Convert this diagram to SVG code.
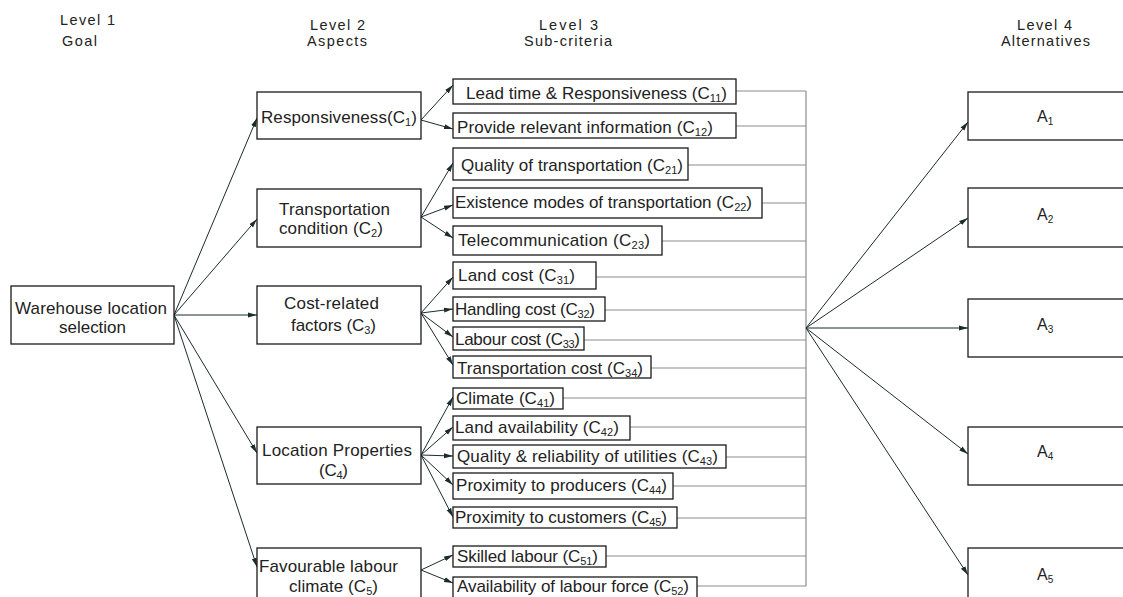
<svg xmlns="http://www.w3.org/2000/svg" width="1123" height="597" viewBox="0 0 1123 597">
<style>
text{font-family:"Liberation Sans",Arial,sans-serif;font-size:17px;fill:#222}
.hd{font-size:14.5px}
.sub{font-size:11px}
.box{fill:#fff;stroke:#1a1a1a;stroke-width:1.3}
.arr{stroke:#1c2b2b;stroke-width:1;fill:none;marker-end:url(#ah)}
.grey{stroke:#8c8c8c;stroke-width:1.2;fill:none}
.alt{font-size:16px}
.asub{font-size:10px}
</style>
<defs>
<marker id="ah" markerUnits="userSpaceOnUse" markerWidth="9" markerHeight="6" refX="9" refY="3" orient="auto">
<path d="M0,0.5 L9,3 L0,5.5 z" fill="#1c2b2b"/>
</marker>
</defs>
<rect width="1123" height="597" fill="#fff"/>

<g id="headers">
<text class="hd" x="60" y="25" textLength="55">Level 1</text>
<text class="hd" x="62" y="46" textLength="35">Goal</text>
<text class="hd" x="310" y="30" textLength="55">Level 2</text>
<text class="hd" x="307" y="46" textLength="60">Aspects</text>
<text class="hd" x="539" y="30" textLength="59">Level 3</text>
<text class="hd" x="524" y="46" textLength="88">Sub-criteria</text>
<text class="hd" x="1017" y="30" textLength="55">Level 4</text>
<text class="hd" x="1001" y="46" textLength="89">Alternatives</text>
</g>

<g id="connectors">
<!-- Level 1 to Level 2 -->
<line class="arr" x1="174" y1="315" x2="257" y2="118"/>
<line class="arr" x1="174" y1="315" x2="257" y2="219"/>
<line class="arr" x1="174" y1="315" x2="257" y2="315"/>
<line class="arr" x1="174" y1="315" x2="257" y2="453"/>
<line class="arr" x1="174" y1="315" x2="257" y2="567"/>
<!-- Level 2 to Level 3 -->
<line class="arr" x1="421" y1="120" x2="453" y2="85"/>
<line class="arr" x1="421" y1="120" x2="453" y2="129"/>
<line class="arr" x1="421" y1="217" x2="453" y2="163"/>
<line class="arr" x1="421" y1="217" x2="453" y2="205"/>
<line class="arr" x1="421" y1="217" x2="453" y2="238"/>
<line class="arr" x1="421" y1="313" x2="453" y2="277"/>
<line class="arr" x1="421" y1="313" x2="453" y2="309"/>
<line class="arr" x1="421" y1="313" x2="453" y2="337"/>
<line class="arr" x1="421" y1="313" x2="453" y2="365"/>
<line class="arr" x1="421" y1="455" x2="453" y2="397"/>
<line class="arr" x1="421" y1="455" x2="453" y2="427"/>
<line class="arr" x1="421" y1="455" x2="453" y2="456"/>
<line class="arr" x1="421" y1="455" x2="453" y2="485"/>
<line class="arr" x1="421" y1="455" x2="453" y2="517"/>
<line class="arr" x1="421" y1="570" x2="453" y2="555"/>
<line class="arr" x1="421" y1="570" x2="453" y2="583"/>
<!-- Level 3 to collector -->
<path class="grey" d="M806,91 V586 M736,91 H806 M736,126 H806 M688,165 H806 M762,203 H806 M662,241 H806 M596,277 H806 M605,310 H806 M584,340 H806 M651,368 H806 M563,398 H806 M630,427 H806 M726,457 H806 M673,486 H806 M677,518 H806 M606,556 H806 M697,586 H806"/>
<!-- collector to Level 4 -->
<line class="arr" x1="806" y1="328" x2="968" y2="122"/>
<line class="arr" x1="806" y1="328" x2="968" y2="218"/>
<line class="arr" x1="806" y1="328" x2="968" y2="328"/>
<line class="arr" x1="806" y1="328" x2="968" y2="454"/>
<line class="arr" x1="806" y1="328" x2="968" y2="575"/>
</g>

<g id="goal">
<rect class="box" x="11" y="286" width="163" height="58"/>
<text x="15" y="314" textLength="152">Warehouse location</text>
<text x="59" y="333" textLength="67">selection</text>
</g>

<g id="C1">
<rect class="box" x="257" y="92" width="164" height="47"/>
<text x="261" y="123" textLength="156">Responsiveness(C<tspan class="sub" dy="3">1</tspan><tspan dy="-3">)</tspan></text>
</g>
<g id="C2">
<rect class="box" x="257" y="189" width="164" height="58"/>
<text x="279" y="215" textLength="111">Transportation</text>
<text x="279" y="234" textLength="104">condition (C<tspan class="sub" dy="3">2</tspan><tspan dy="-3">)</tspan></text>
</g>
<g id="C3">
<rect class="box" x="257" y="286" width="164" height="58"/>
<text x="284" y="309" textLength="95">Cost-related</text>
<text x="291" y="331" textLength="85">factors (C<tspan class="sub" dy="3">3</tspan><tspan dy="-3">)</tspan></text>
</g>
<g id="C4">
<rect class="box" x="257" y="427" width="164" height="57"/>
<text x="262" y="456" textLength="150">Location Properties</text>
<text x="319" y="476" textLength="29">(C<tspan class="sub" dy="3">4</tspan><tspan dy="-3">)</tspan></text>
</g>
<g id="C5">
<rect class="box" x="257" y="548" width="164" height="60"/>
<text x="259" y="572" textLength="139">Favourable labour</text>
<text x="289" y="592" textLength="89">climate (C<tspan class="sub" dy="3">5</tspan><tspan dy="-3">)</tspan></text>
</g>

<g id="C11"><rect class="box" x="453" y="79" width="283" height="25"/>
<text x="466" y="99" textLength="261">Lead time &amp; Responsiveness (C<tspan class="sub" dy="3">11</tspan><tspan dy="-3">)</tspan></text></g>
<g id="C12"><rect class="box" x="453" y="113" width="283" height="25"/>
<text x="457" y="133" textLength="256">Provide relevant information (C<tspan class="sub" dy="3">12</tspan><tspan dy="-3">)</tspan></text></g>
<g id="C21"><rect class="box" x="453" y="148" width="235" height="32"/>
<text x="461" y="171" textLength="222">Quality of transportation (C<tspan class="sub" dy="3">21</tspan><tspan dy="-3">)</tspan></text></g>
<g id="C22"><rect class="box" x="453" y="188" width="309" height="30"/>
<text x="455" y="208" textLength="297">Existence modes of transportation (C<tspan class="sub" dy="3">22</tspan><tspan dy="-3">)</tspan></text></g>
<g id="C23"><rect class="box" x="453" y="226" width="209" height="29"/>
<text x="458" y="246" textLength="192">Telecommunication (C<tspan class="sub" dy="3">23</tspan><tspan dy="-3">)</tspan></text></g>
<g id="C31"><rect class="box" x="453" y="262" width="143" height="27"/>
<text x="458" y="281" textLength="117">Land cost (C<tspan class="sub" dy="3">31</tspan><tspan dy="-3">)</tspan></text></g>
<g id="C32"><rect class="box" x="453" y="297" width="152" height="24"/>
<text x="455" y="315" textLength="140">Handling cost (C<tspan class="sub" dy="3">32</tspan><tspan dy="-3">)</tspan></text></g>
<g id="C33"><rect class="box" x="453" y="327" width="131" height="23"/>
<text x="455" y="345" textLength="125">Labour cost (C<tspan class="sub" dy="3">33</tspan><tspan dy="-3">)</tspan></text></g>
<g id="C34"><rect class="box" x="453" y="356" width="198" height="22"/>
<text x="457" y="374" textLength="186">Transportation cost (C<tspan class="sub" dy="3">34</tspan><tspan dy="-3">)</tspan></text></g>
<g id="C41"><rect class="box" x="453" y="388" width="110" height="21"/>
<text x="456" y="404" textLength="99">Climate (C<tspan class="sub" dy="3">41</tspan><tspan dy="-3">)</tspan></text></g>
<g id="C42"><rect class="box" x="453" y="416" width="177" height="24"/>
<text x="455" y="433" textLength="164">Land availability (C<tspan class="sub" dy="3">42</tspan><tspan dy="-3">)</tspan></text></g>
<g id="C43"><rect class="box" x="453" y="445" width="273" height="23"/>
<text x="457" y="462" textLength="261">Quality &amp; reliability of utilities (C<tspan class="sub" dy="3">43</tspan><tspan dy="-3">)</tspan></text></g>
<g id="C44"><rect class="box" x="453" y="473" width="220" height="26"/>
<text x="456" y="491" textLength="211">Proximity to producers (C<tspan class="sub" dy="3">44</tspan><tspan dy="-3">)</tspan></text></g>
<g id="C45"><rect class="box" x="453" y="507" width="224" height="21"/>
<text x="455" y="523" textLength="212">Proximity to customers (C<tspan class="sub" dy="3">45</tspan><tspan dy="-3">)</tspan></text></g>
<g id="C51"><rect class="box" x="453" y="546" width="153" height="21"/>
<text x="457" y="562" textLength="141">Skilled labour (C<tspan class="sub" dy="3">51</tspan><tspan dy="-3">)</tspan></text></g>
<g id="C52"><rect class="box" x="453" y="577" width="244" height="24"/>
<text x="457" y="592" textLength="232">Availability of labour force (C<tspan class="sub" dy="3">52</tspan><tspan dy="-3">)</tspan></text></g>

<g id="A1"><rect class="box" x="968" y="92" width="170" height="48"/>
<text class="alt" x="1037" y="122">A<tspan class="asub" dy="3">1</tspan></text></g>
<g id="A2"><rect class="box" x="968" y="188" width="170" height="59"/>
<text class="alt" x="1037" y="220">A<tspan class="asub" dy="3">2</tspan></text></g>
<g id="A3"><rect class="box" x="968" y="299" width="170" height="58"/>
<text class="alt" x="1037" y="330">A<tspan class="asub" dy="3">3</tspan></text></g>
<g id="A4"><rect class="box" x="968" y="427" width="170" height="58"/>
<text class="alt" x="1037" y="457">A<tspan class="asub" dy="3">4</tspan></text></g>
<g id="A5"><rect class="box" x="968" y="548" width="170" height="60"/>
<text class="alt" x="1037" y="580">A<tspan class="asub" dy="3">5</tspan></text></g>
</svg>
